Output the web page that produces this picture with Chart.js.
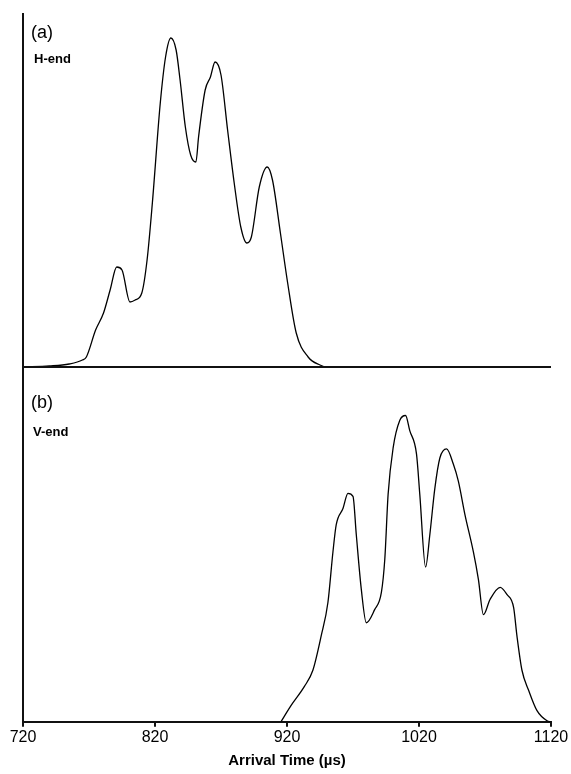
<!DOCTYPE html>
<html>
<head>
<meta charset="utf-8">
<script src="https://cdn.jsdelivr.net/npm/chart.js@4/dist/chart.umd.min.js"></script>
<style>
  html, body { margin: 0; padding: 0; background: #fff; }
  body { width: 571px; height: 774px; position: relative; overflow: hidden; font-family: "Liberation Sans", Arial, sans-serif; }
  .cv { position: absolute; left: 0; }
  #wrapA { top: 0; width: 571px; height: 370px; }
  #wrapB { top: 367px; width: 571px; height: 407px; }
  .lbl { position: absolute; color: #000; white-space: nowrap; line-height: 1; }
  .pl { font-size: 18px; }
  .nm { font-size: 13px; font-weight: bold; }
</style>
</head>
<body>
<div id="wrapA" class="cv"><canvas id="cA"></canvas></div>
<div id="wrapB" class="cv"><canvas id="cB"></canvas></div>
<div class="lbl pl" style="left:31px; top:23px;">(a)</div>
<div class="lbl nm" style="left:34px; top:52px;">H-end</div>
<div class="lbl pl" style="left:31px; top:393px;">(b)</div>
<div class="lbl nm" style="left:33px; top:425px;">V-end</div>
<script>
// Panel (a): H-end arrival-time distribution
const timesA  = [720, 740, 755, 765, 768, 775, 781, 786, 791, 795, 801, 805, 810, 814, 818, 824, 828, 832, 836, 839, 843, 847, 851, 853, 858, 862, 865.5, 870, 875, 880, 885, 889.6, 893, 899, 905, 909, 915, 920.5, 927, 936, 945, 950, 1120];
const valuesA = [0, 1, 3, 7, 10, 37, 54, 77, 100, 97, 65, 67, 74, 107, 164, 264, 310, 329, 317, 287, 240, 212, 205, 230, 277, 290, 305, 292, 237, 184, 140, 124, 130, 180, 200, 187, 134, 84, 34, 10, 2, 0, 0];

// Panel (b): V-end arrival-time distribution
const timesB  = [915.4, 923, 933.2, 939.6, 945.9, 951, 954.8, 957.3, 962.4, 966.2, 970, 972.5, 976.3, 980.1, 986.4, 991.5, 994.1, 996.6, 1000.4, 1005.4, 1009.8, 1013, 1018.1, 1020.6, 1025, 1028.2, 1032, 1035.8, 1040.9, 1046, 1049.8, 1054.8, 1061.2, 1065, 1068.8, 1073.8, 1081.5, 1086.6, 1091.7, 1094.2, 1098, 1103.1, 1109.4, 1117, 1120];
const valuesB = [0, 16, 35, 51, 85, 118, 168, 195, 211, 226, 223, 185, 131, 98, 111, 128, 161, 225, 271, 298, 303, 288, 265, 225, 153, 185, 231, 261, 270, 255, 238, 205, 168, 141, 106, 121, 133, 126, 113, 85, 51, 31, 11, 1, 0];

const xTickValues = [720, 820, 920, 1020, 1120];
const xTickLabels = ['720', '820', '920', '1020', '1120'];
const xTitle = 'Arrival Time (\u00b5s)';

function pts(xs, ys) { return xs.map((x, i) => ({ x: x, y: ys[i] })); }

const axisLines = {
  id: 'axisLines',
  afterDraw(chart, args, opts) {
    const { ctx, chartArea } = chart;
    ctx.save();
    ctx.strokeStyle = '#111';
    ctx.lineWidth = 2;
    ctx.beginPath();
    ctx.moveTo(chartArea.left, opts.top != null ? opts.top : chartArea.top);
    ctx.lineTo(chartArea.left, chartArea.bottom);
    if (opts.bottomLine) {
      ctx.moveTo(chartArea.left, chartArea.bottom);
      ctx.lineTo(chartArea.right, chartArea.bottom);
    }
    ctx.stroke();
    ctx.restore();
  }
};

const lineStyle = { borderColor: '#000', borderWidth: 1.3, pointRadius: 0, fill: false, cubicInterpolationMode: 'monotone' };

new Chart(document.getElementById('cA'), {
  type: 'line',
  data: { datasets: [Object.assign({ data: pts(timesA, valuesA) }, lineStyle)] },
  options: {
    responsive: true, maintainAspectRatio: false, animation: false,
    layout: { padding: { left: 23, right: 20, top: 15, bottom: 3 } },
    plugins: { legend: { display: false }, tooltip: { enabled: false }, axisLines: { top: 13, bottomLine: true } },
    scales: {
      x: { type: 'linear', min: 720, max: 1120, display: false },
      y: { min: 0, max: 352, display: false }
    }
  },
  plugins: [axisLines]
});

new Chart(document.getElementById('cB'), {
  type: 'line',
  data: { datasets: [Object.assign({ data: pts(timesB, valuesB) }, lineStyle)] },
  options: {
    responsive: true, maintainAspectRatio: false, animation: false,
    layout: { padding: { left: 23, right: 20, top: 0, bottom: 4 } },
    plugins: { legend: { display: false }, tooltip: { enabled: false }, axisLines: { top: 0, bottomLine: false } },
    scales: {
      x: {
        type: 'linear', min: 720, max: 1120,
        afterBuildTicks: (axis) => { axis.ticks = xTickValues.map(v => ({ value: v })); },
        ticks: {
          color: '#000', font: { family: 'Liberation Sans', size: 16 }, padding: 1, maxRotation: 0, autoSkip: false,
          callback: (v) => { const i = xTickValues.indexOf(v); return i >= 0 ? xTickLabels[i] : ''; }
        },
        grid: { drawOnChartArea: false, drawTicks: true, tickLength: 5, color: '#111', lineWidth: 2 },
        border: { display: true, color: '#111', width: 2 },
        title: { display: true, text: xTitle, color: '#000', font: { family: 'Liberation Sans', size: 15, weight: 'bold' }, padding: { top: 4, bottom: 0 } }
      },
      y: { min: 0, max: 351, display: false }
    }
  },
  plugins: [axisLines]
});
</script>
</body>
</html>
